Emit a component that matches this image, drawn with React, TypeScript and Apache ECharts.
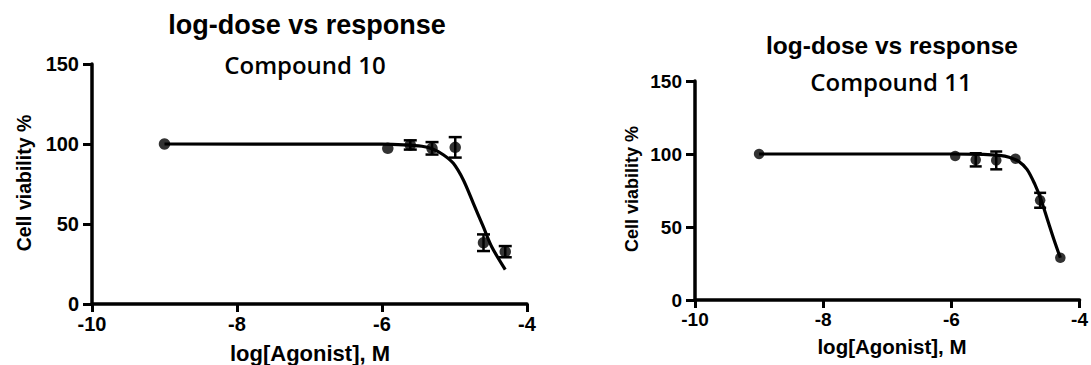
import React, { useEffect, useRef } from "react";
import * as echarts from "echarts";

// ---- Data: Compound 10 ----
const doseC10 = [-9, -5.92, -5.61, -5.31, -4.99, -4.6, -4.3];
const viabC10 = [100, 97.3, 99.4, 97.3, 97.9, 38.3, 32.7];
const errC10 = [0, 0, 2.9, 3.9, 6.4, 5.2, 3.5];
const curveXC10 = [-9, -6, -5.7, -5.45, -5.31, -5.155, -5.016, -4.878, -4.74, -4.603, -4.487, -4.3];
const curveYC10 = [100, 99.9, 99.5, 98.6, 97.0, 93.3, 87.9, 77.5, 62.9, 48.3, 35.8, 21.5];

// ---- Data: Compound 11 ----
const doseC11 = [-9, -5.94, -5.62, -5.3, -5.0, -4.615, -4.3];
const viabC11 = [100, 98.6, 96.0, 95.6, 96.8, 68.3, 28.9];
const errC11 = [0, 0, 4.5, 6.1, 0, 5.1, 0];
const curveXC11 = [-9, -6, -5.5, -5.25, -5.1, -4.95, -4.82, -4.7, -4.6, -4.5, -4.4, -4.3];
const curveYC11 = [100, 100, 99.7, 99.0, 97.8, 95.0, 89.5, 79.5, 68.5, 55.0, 41.5, 28.9];

// ---- Axis ticks ----
const xMin = -10, xMax = -4, xStep = 2;
const yMin = 0, yMax = 150, yStep = 50;

const titleText = "log-dose vs response";
const compoundTitles = ["Compound 10", "Compound 11"];
const xName = "log[Agonist], M";
const yName = "Cell viability %";

const FONT = "'Liberation Sans', Arial, sans-serif";
const CFONT = "'Open Sans', sans-serif";

function makeX(gridIndex: number, fontSize: number) {
  return {
    type: "value",
    gridIndex,
    min: xMin,
    max: xMax,
    interval: xStep,
    splitLine: { show: false },
    axisLine: { show: true, onZero: false, lineStyle: { color: "#000", width: 3.5 } },
    axisTick: { show: true, inside: false, length: 8, lineStyle: { color: "#000", width: 3 } },
    axisLabel: { color: "#000", fontWeight: "bold", fontSize, fontFamily: FONT, margin: 10 },
  };
}
function makeY(gridIndex: number, fontSize: number) {
  return {
    type: "value",
    gridIndex,
    min: yMin,
    max: yMax,
    interval: yStep,
    splitLine: { show: false },
    axisLine: { show: true, onZero: false, lineStyle: { color: "#000", width: 3.5 } },
    axisTick: { show: true, inside: false, length: 9, lineStyle: { color: "#000", width: 3 } },
    axisLabel: { color: "#000", fontWeight: "bold", fontSize, fontFamily: FONT, margin: 13 },
  };
}

function errSeries(idx: number, dose: number[], viab: number[], err: number[], half: number) {
  return {
    type: "custom",
    xAxisIndex: idx,
    yAxisIndex: idx,
    z: 3,
    data: dose.map((d, i) => [d, viab[i], err[i]]).filter((r) => r[2] > 0),
    renderItem: (params: any, api: any) => {
      const x = api.value(0), y = api.value(1), e = api.value(2);
      const t = api.coord([x, y + e]);
      const b = api.coord([x, y - e]);
      const st = { stroke: "#000", lineWidth: 2.5 };
      return {
        type: "group",
        children: [
          { type: "line", shape: { x1: t[0], y1: t[1], x2: b[0], y2: b[1] }, style: st },
          { type: "line", shape: { x1: t[0] - half, y1: t[1], x2: t[0] + half, y2: t[1] }, style: st },
          { type: "line", shape: { x1: b[0] - half, y1: b[1], x2: b[0] + half, y2: b[1] }, style: st },
        ],
      };
    },
  };
}

function curveSeries(idx: number, xs: number[], ys: number[]) {
  return {
    type: "line",
    xAxisIndex: idx,
    yAxisIndex: idx,
    data: xs.map((x, i) => [x, ys[i]]),
    smooth: 0.3,
    symbol: "none",
    z: 2,
    lineStyle: { color: "#000", width: 3.2 },
  };
}

function pointSeries(idx: number, dose: number[], viab: number[], size: number) {
  return {
    type: "scatter",
    xAxisIndex: idx,
    yAxisIndex: idx,
    data: dose.map((d, i) => [d, viab[i]]),
    symbol: "circle",
    symbolSize: size,
    z: 4,
    itemStyle: { color: "#000" },
  };
}

function txt(text: string, x: number, y: number, size: number, weight: string, family: string, rot = 0) {
  return {
    type: "text",
    x,
    y,
    rotation: rot,
    style: {
      text,
      fontSize: size,
      fontWeight: weight,
      fontFamily: family,
      fill: "#000",
      align: "center",
      verticalAlign: "middle",
    },
  };
}

export default function App() {
  const ref = useRef<HTMLDivElement>(null);
  useEffect(() => {
    if (!ref.current) return;
    const chart = echarts.init(ref.current, undefined, { renderer: "svg" });
    chart.setOption({
      animation: false,
      backgroundColor: "#fff",
      grid: [
        { left: 92, top: 64, width: 435, height: 240 },
        { left: 695, top: 81, width: 395, height: 219 },
      ],
      xAxis: [makeX(0, 20), makeX(1, 19)],
      yAxis: [makeY(0, 20), makeY(1, 19)],
      series: [
        curveSeries(0, curveXC10, curveYC10),
        errSeries(0, doseC10, viabC10, errC10, 6.5),
        pointSeries(0, doseC10, viabC10, 11.5),
        curveSeries(1, curveXC11, curveYC11),
        errSeries(1, doseC11, viabC11, errC11, 6),
        pointSeries(1, doseC11, viabC11, 10.5),
      ],
      graphic: [
        txt(titleText, 307, 25, 27, "bold", FONT),
        txt(compoundTitles[0], 305, 64, 24, "600", CFONT),
        txt(xName, 310, 353, 22, "bold", FONT),
        txt(yName, 24, 183, 19.5, "bold", FONT, Math.PI / 2),
        txt(titleText, 892, 45, 24.5, "bold", FONT),
        txt(compoundTitles[1], 891, 81, 24, "600", CFONT),
        txt(xName, 892, 346, 20.5, "bold", FONT),
        txt(yName, 632, 189, 18, "bold", FONT, Math.PI / 2),
      ],
    });
    return () => chart.dispose();
  }, []);
  return (
    <div
      ref={ref}
      style={{ position: "absolute", left: 0, top: 0, width: 1091, height: 365, background: "#fff" }}
    />
  );
}
